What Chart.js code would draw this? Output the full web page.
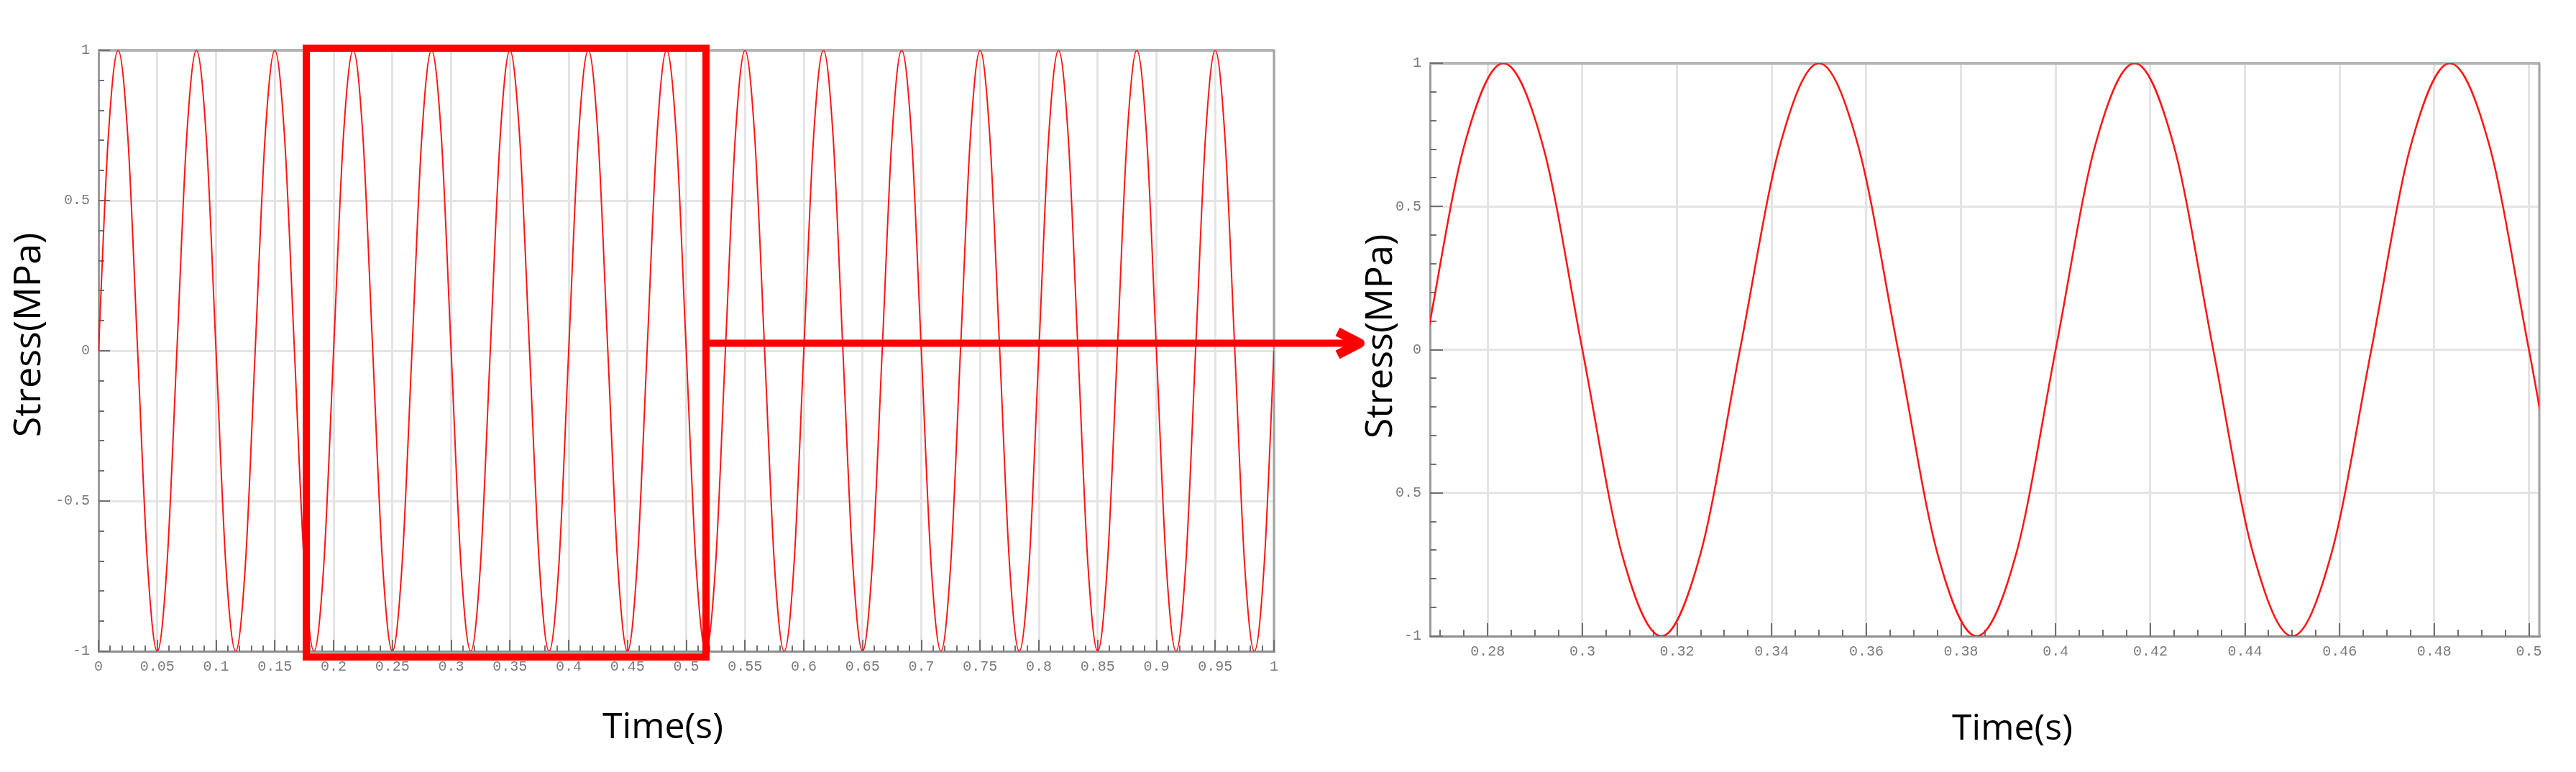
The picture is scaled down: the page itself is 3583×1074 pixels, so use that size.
<!DOCTYPE html>
<html>
<head>
<meta charset="utf-8">
<script src="https://cdn.jsdelivr.net/npm/chart.js@4.4.1/dist/chart.umd.min.js"></script>
<style>
  html, body { margin: 0; padding: 0; background: #fff; }
  body { width: 3583px; height: 1074px; position: relative; overflow: hidden; }
  canvas { position: absolute; top: 0; }
  #chartFull { left: 0; }
  #chartZoom { left: 1880px; }
</style>
</head>
<body>
<canvas id="chartFull" width="1920" height="1074"></canvas>
<canvas id="chartZoom" width="1703" height="1074"></canvas>
<script>
// time samples (s), read every 1/120 s off the curve
const timeS = [
  0, 0.0083, 0.0167, 0.025, 0.0333, 0.0417,
  0.05, 0.0583, 0.0667, 0.075, 0.0833, 0.0917,
  0.1, 0.1083, 0.1167, 0.125, 0.1333, 0.1417,
  0.15, 0.1583, 0.1667, 0.175, 0.1833, 0.1917,
  0.2, 0.2083, 0.2167, 0.225, 0.2333, 0.2417,
  0.25, 0.2583, 0.2667, 0.275, 0.2833, 0.2917,
  0.3, 0.3083, 0.3167, 0.325, 0.3333, 0.3417,
  0.35, 0.3583, 0.3667, 0.375, 0.3833, 0.3917,
  0.4, 0.4083, 0.4167, 0.425, 0.4333, 0.4417,
  0.45, 0.4583, 0.4667, 0.475, 0.4833, 0.4917,
  0.5, 0.5083, 0.5167, 0.525, 0.5333, 0.5417,
  0.55, 0.5583, 0.5667, 0.575, 0.5833, 0.5917,
  0.6, 0.6083, 0.6167, 0.625, 0.6333, 0.6417,
  0.65, 0.6583, 0.6667, 0.675, 0.6833, 0.6917,
  0.7, 0.7083, 0.7167, 0.725, 0.7333, 0.7417,
  0.75, 0.7583, 0.7667, 0.775, 0.7833, 0.7917,
  0.8, 0.8083, 0.8167, 0.825, 0.8333, 0.8417,
  0.85, 0.8583, 0.8667, 0.875, 0.8833, 0.8917,
  0.9, 0.9083, 0.9167, 0.925, 0.9333, 0.9417,
  0.95, 0.9583, 0.9667, 0.975, 0.9833, 0.9917,
  1
];

// stress (MPa) at those times
const stressMPa = [
  0, 0.71, 1, 0.71, 0, -0.71,
  -1, -0.71, 0, 0.71, 1, 0.71,
  0, -0.71, -1, -0.71, 0, 0.71,
  1, 0.71, 0, -0.71, -1, -0.71,
  0, 0.71, 1, 0.71, 0, -0.71,
  -1, -0.71, 0, 0.71, 1, 0.71,
  0, -0.71, -1, -0.71, 0, 0.71,
  1, 0.71, 0, -0.71, -1, -0.71,
  0, 0.71, 1, 0.71, 0, -0.71,
  -1, -0.71, 0, 0.71, 1, 0.71,
  0, -0.71, -1, -0.71, 0, 0.71,
  1, 0.71, 0, -0.71, -1, -0.71,
  0, 0.71, 1, 0.71, 0, -0.71,
  -1, -0.71, 0, 0.71, 1, 0.71,
  0, -0.71, -1, -0.71, 0, 0.71,
  1, 0.71, 0, -0.71, -1, -0.71,
  0, 0.71, 1, 0.71, 0, -0.71,
  -1, -0.71, 0, 0.71, 1, 0.71,
  0, -0.71, -1, -0.71, 0, 0.71,
  1, 0.71, 0, -0.71, -1, -0.71,
  0
];

// axis ranges
const fullRange = [0, 1];
const zoomRange = [0.2678, 0.5022];
const stressRange = [-1, 1];
// highlighted window on the full chart (s, MPa)
const boxTime = [0.1768, 0.5168];
const boxStress = [-1.019, 1.007];

const points = timeS.map((t, i) => ({x: t, y: stressMPa[i]}));

function line(ctx, x1, y1, x2, y2) {
  ctx.beginPath();
  ctx.moveTo(x1, y1);
  ctx.lineTo(x2, y2);
  ctx.stroke();
}

// frame, minor ticks and axis titles
const decorPlugin = {
  id: 'decor',
  beforeDatasetsDraw(chart, args, opts) {
    const ctx = chart.ctx;
    const a = chart.chartArea;
    const xs = chart.scales.x, ys = chart.scales.y;
    ctx.save();
    ctx.strokeStyle = '#b4b4b4';
    ctx.lineWidth = 4;
    line(ctx, a.left - 1, a.top, a.right + 1, a.top);
    ctx.strokeStyle = '#a2a2a2';
    ctx.lineWidth = 3;
    line(ctx, a.right, a.top, a.right, a.bottom);

    ctx.strokeStyle = '#707070';
    ctx.lineWidth = 2;
    const k0 = Math.ceil(xs.min / opts.xMinor - 1e-6);
    const k1 = Math.floor(xs.max / opts.xMinor + 1e-6);
    for (let k = k0; k <= k1; k++) {
      const px = Math.round(xs.getPixelForValue(k * opts.xMinor));
      const len = k % opts.xEvery === 0 ? opts.majorLen : opts.minorLen;
      line(ctx, px, a.bottom, px, a.bottom - len);
    }
    for (let k = -10; k <= 10; k++) {
      const py = Math.round(ys.getPixelForValue(k * 0.1));
      const len = k % 5 === 0 ? opts.majorLen : opts.minorLen;
      line(ctx, a.left, py, a.left + len, py);
    }
    ctx.restore();
  },
  afterDraw(chart, args, opts) {
    const ctx = chart.ctx;
    ctx.save();
    ctx.fillStyle = '#000';
    ctx.textAlign = 'center';
    ctx.textBaseline = 'middle';
    opts.titles.forEach(t => {
      ctx.save();
      ctx.translate(t.x, t.y);
      if (t.rotate) ctx.rotate(-Math.PI / 2);
      ctx.font = t.size + 'px "Open Sans"';
      ctx.fillText(t.text, 0, 0);
      ctx.restore();
    });
    ctx.restore();
  }
};

// red window and arrow pointing to the zoomed chart
const highlightPlugin = {
  id: 'highlight',
  afterDatasetsDraw(chart) {
    const ctx = chart.ctx;
    const xs = chart.scales.x, ys = chart.scales.y;
    const x0 = xs.getPixelForValue(boxTime[0]);
    const x1 = xs.getPixelForValue(boxTime[1]);
    const y0 = ys.getPixelForValue(boxStress[1]);
    const y1 = ys.getPixelForValue(boxStress[0]);
    ctx.save();
    ctx.strokeStyle = '#ff0000';
    ctx.lineWidth = 10;
    ctx.strokeRect(x0, y0, x1 - x0, y1 - y0);

    const ay = ys.getPixelForValue(0.025);
    const tip = xs.getPixelForValue(1.0731);
    line(ctx, x1, ay, tip - 8, ay);
    ctx.lineWidth = 13;
    ctx.lineJoin = 'round';
    ctx.beginPath();
    ctx.moveTo(tip - 31, ay - 16);
    ctx.lineTo(tip, ay);
    ctx.lineTo(tip - 31, ay + 16);
    ctx.stroke();
    ctx.restore();
  }
};

const tickFont = {family: 'Liberation Mono', size: 20};

function makeConfig(cfg) {
  return {
    type: 'line',
    data: {
      datasets: [{
        data: points,
        borderColor: '#ff1414',
        borderWidth: cfg.lineWidth,
        pointRadius: 0,
        fill: false,
        cubicInterpolationMode: 'monotone'
      }]
    },
    options: {
      responsive: false,
      animation: false,
      devicePixelRatio: 1,
      layout: {padding: {left: 0, top: cfg.padTop, right: cfg.padRight, bottom: 0}},
      plugins: {
        legend: {display: false},
        tooltip: {enabled: false},
        decor: cfg.decor
      },
      scales: {
        x: {
          type: 'linear',
          min: cfg.xRange[0],
          max: cfg.xRange[1],
          afterFit: s => { s.height = cfg.xHeight; },
          grid: {color: '#e4e4e4', lineWidth: 3, drawTicks: false},
          border: {color: '#8e8e8e', width: 3},
          ticks: {
            stepSize: cfg.xStep,
            includeBounds: false,
            autoSkip: false,
            maxRotation: 0,
            padding: 10,
            color: '#7a7a7a',
            font: tickFont,
            callback: v => String(Number(v.toFixed(3)))
          }
        },
        y: {
          min: stressRange[0],
          max: stressRange[1],
          afterFit: s => { s.width = cfg.yWidth; },
          grid: {color: '#e4e4e4', lineWidth: 3, drawTicks: false},
          border: {color: '#9c9c9c', width: 3},
          ticks: {
            stepSize: 0.5,
            padding: 12,
            color: '#7a7a7a',
            font: tickFont,
            callback: cfg.yLabel
          }
        }
      }
    },
    plugins: cfg.plugins
  };
}

new Chart(document.getElementById('chartFull'), makeConfig({
  xRange: fullRange,
  xStep: 0.05,
  lineWidth: 2,
  padTop: 70,
  padRight: 148,
  xHeight: 168,
  yWidth: 137,
  yLabel: v => String(v),
  decor: {
    xMinor: 0.01, xEvery: 5, majorLen: 16, minorLen: 8,
    titles: [
      {text: 'Stress(MPa)', x: 41, y: 466, rotate: true, size: 52},
      {text: 'Time(s)', x: 922, y: 1013, rotate: false, size: 50}
    ]
  },
  plugins: [decorPlugin, highlightPlugin]
}));

new Chart(document.getElementById('chartZoom'), makeConfig({
  xRange: zoomRange,
  xStep: 0.02,
  lineWidth: 2.5,
  padTop: 88,
  padRight: 51,
  xHeight: 189,
  yWidth: 109,
  yLabel: v => String(Math.abs(v) === 0.5 ? 0.5 : v),
  decor: {
    xMinor: 0.005, xEvery: 4, majorLen: 18, minorLen: 9,
    titles: [
      {text: 'Stress(MPa)', x: 41, y: 468, rotate: true, size: 52},
      {text: 'Time(s)', x: 919, y: 1015, rotate: false, size: 50}
    ]
  },
  plugins: [decorPlugin]
}));
</script>
</body>
</html>
